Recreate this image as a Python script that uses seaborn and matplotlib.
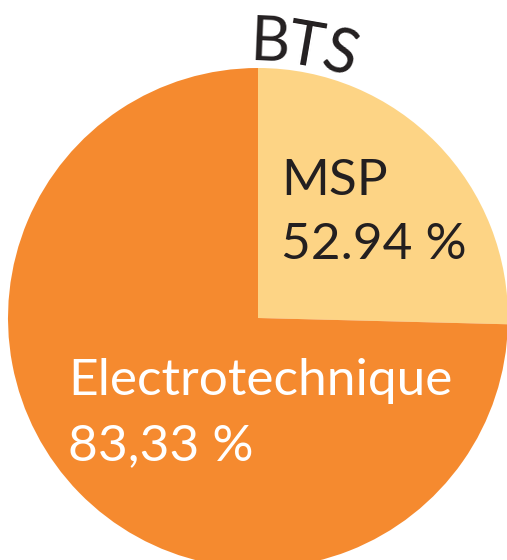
import numpy as np
import matplotlib
matplotlib.use("Agg")
import matplotlib.pyplot as plt
import seaborn as sns

# data
categories = ["MSP", "Electrotechnique"]
shares = [25.4, 74.6]          # visible slice sizes (%)
value_labels = ["52.94 %", "83,33 %"]
title_letters = ["B", "T", "S"]

sns.set_theme(style="white")
plt.rcParams["font.family"] = ["Lato", "DejaVu Sans"]

colors = ["#FDD485", "#F58A2F"]
text_colors = ["#231F20", "white"]

W, H = 507, 560
fig = plt.figure(figsize=(W / 100, H / 100), dpi=100)
ax = fig.add_axes([0, 0, 1, 1])

# pie centre at pixel (258, 318), radius 250 px -> 1 data unit = 250 px
scale = 250.0
cx, cy = 258, 318
ax.pie(shares, colors=colors, startangle=90, counterclock=False,
       radius=1.0, center=(0, 0), wedgeprops=dict(linewidth=0))
ax.set_xlim((0 - cx) / scale, (W - cx) / scale)
ax.set_ylim((cy - H) / scale, (cy - 0) / scale)
ax.set_aspect("auto")
ax.axis("off")


def px(x, y):
    return (x - cx) / scale, (cy - y) / scale


# slice labels
fs = 37
x, y = px(281, 195)
ax.text(x, y, categories[0], fontsize=fs, color=text_colors[0], ha="left", va="baseline")
x, y = px(281, 259)
ax.text(x, y, value_labels[0], fontsize=fs, color=text_colors[0], ha="left", va="baseline")
x, y = px(68, 395)
ax.text(x, y, categories[1], fontsize=fs, color=text_colors[1], ha="left", va="baseline")
x, y = px(68, 460)
ax.text(x, y, value_labels[1], fontsize=fs, color=text_colors[1], ha="left", va="baseline")

# curved title following the circle
r_title = 257 / scale
for letter, ang in zip(title_letters, [87.6, 80.2, 72.6]):
    a = np.deg2rad(ang)
    ax.text(r_title * np.cos(a), r_title * np.sin(a), letter, fontsize=44,
            color="#231F20", ha="center", va="baseline", rotation=ang - 90,
            rotation_mode="anchor")

fig.savefig("out.png", dpi=100)
